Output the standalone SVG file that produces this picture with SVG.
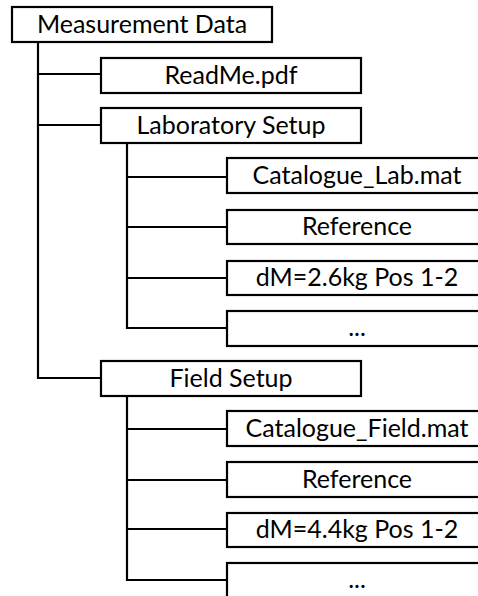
<svg xmlns="http://www.w3.org/2000/svg" width="478" height="596" viewBox="0 0 478 596">
<style>
  .box { fill: #ffffff; stroke: #000000; stroke-width: 2.2; }
  .lbl { font-family: Lato, "Liberation Sans", sans-serif; font-size: 25px; fill: #000000; text-anchor: middle; }
  .conn { fill: none; stroke: #000000; stroke-width: 2.2; }
</style>
<rect width="478" height="596" fill="#ffffff"/>
<g id="connectors">
  <path class="conn" d="M38,42 V378 H101"/>
  <path class="conn" d="M38,74 H101"/>
  <path class="conn" d="M38,125 H101"/>
  <path class="conn" d="M127,143 V328 H227"/>
  <path class="conn" d="M127,177 H227"/>
  <path class="conn" d="M127,227 H227"/>
  <path class="conn" d="M127,278 H227"/>
  <path class="conn" d="M127,396 V580 H227"/>
  <path class="conn" d="M127,429 H227"/>
  <path class="conn" d="M127,480 H227"/>
  <path class="conn" d="M127,529 H227"/>
</g>
<g id="root">
  <rect class="box" x="12" y="7" width="260" height="35"/>
  <text class="lbl" x="142" y="32.5">Measurement Data</text>
</g>
<g id="readme">
  <rect class="box" x="101" y="58" width="260" height="35"/>
  <text class="lbl" x="231" y="83.5">ReadMe.pdf</text>
</g>
<g id="lab">
  <rect class="box" x="101" y="108" width="260" height="35"/>
  <text class="lbl" x="231" y="133.5">Laboratory Setup</text>
</g>
<g id="lab-catalogue">
  <rect class="box" x="227" y="158" width="260" height="35"/>
  <text class="lbl" x="357" y="183.5">Catalogue_Lab.mat</text>
</g>
<g id="lab-reference">
  <rect class="box" x="227" y="210" width="260" height="34"/>
  <text class="lbl" x="357" y="235">Reference</text>
</g>
<g id="lab-dm">
  <rect class="box" x="227" y="261" width="260" height="34"/>
  <text class="lbl" x="357" y="286">dM=2.6kg Pos 1-2</text>
</g>
<g id="lab-more">
  <rect class="box" x="227" y="311" width="260" height="35"/>
  <text class="lbl" x="357" y="336">...</text>
</g>
<g id="field">
  <rect class="box" x="101" y="361" width="260" height="35"/>
  <text class="lbl" x="231" y="386.5">Field Setup</text>
</g>
<g id="field-catalogue">
  <rect class="box" x="227" y="411" width="260" height="35"/>
  <text class="lbl" x="357" y="436.5">Catalogue_Field.mat</text>
</g>
<g id="field-reference">
  <rect class="box" x="227" y="462" width="260" height="35"/>
  <text class="lbl" x="357" y="487.5">Reference</text>
</g>
<g id="field-dm">
  <rect class="box" x="227" y="513" width="260" height="34"/>
  <text class="lbl" x="357" y="538">dM=4.4kg Pos 1-2</text>
</g>
<g id="field-more">
  <rect class="box" x="227" y="563" width="260" height="35"/>
  <text class="lbl" x="357" y="588">...</text>
</g>
</svg>
